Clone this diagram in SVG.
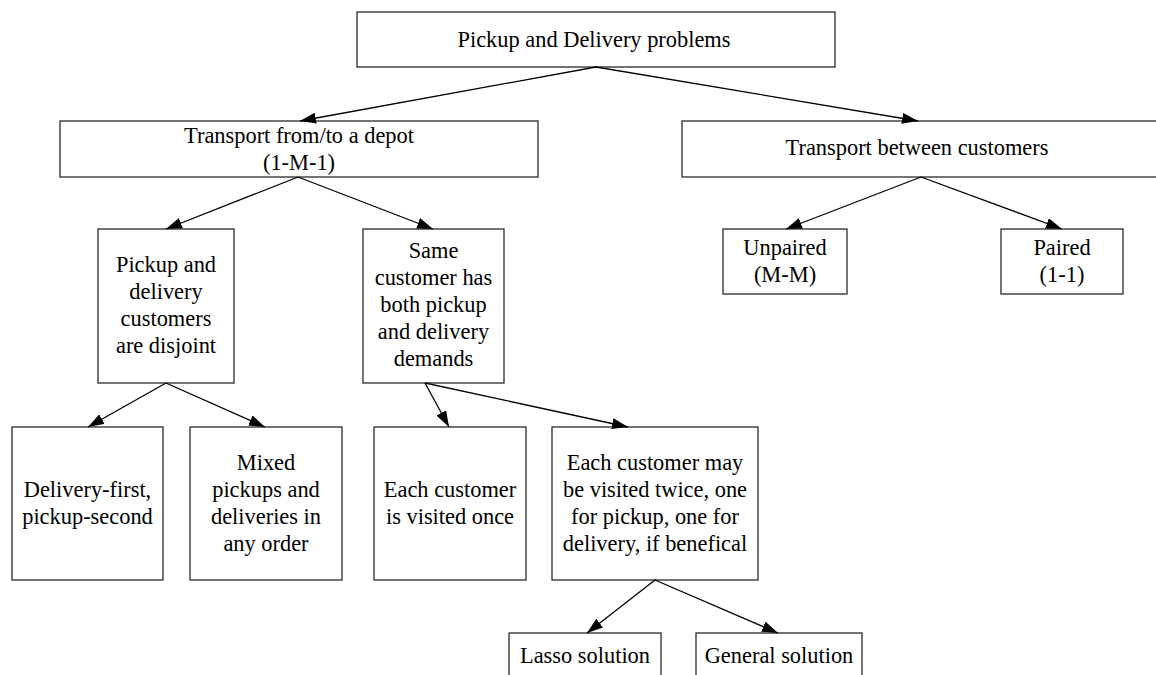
<svg xmlns="http://www.w3.org/2000/svg" width="1156" height="675" viewBox="0 0 1156 675">
<style>
.box{fill:#fff;stroke:#2a2a2a;stroke-width:1.3}
.t{font-family:"Liberation Serif","Times New Roman",serif;font-size:22.4px;fill:#000;text-anchor:middle}
.e{stroke:#000;stroke-width:1.3;fill:none;marker-end:url(#ah)}
</style>
<defs>
<marker id="ah" markerUnits="userSpaceOnUse" markerWidth="16" markerHeight="11" viewBox="0 0 16 11" refX="16" refY="5.5" orient="auto">
<path d="M0,0 L16,5.5 L0,11 z" fill="#000"/>
</marker>
</defs>
<rect width="1156" height="675" fill="#fff"/>
<g id="n-root"><rect class="box" x="357" y="12" width="478" height="55"/><text class="t" x="594" y="46.5">Pickup and Delivery problems</text></g>
<g id="n-depot"><rect class="box" x="60" y="121" width="478" height="56"/><text class="t" x="299" y="143">Transport from/to a depot</text><text class="t" x="299" y="170">(1-M-1)</text></g>
<g id="n-between"><rect class="box" x="682" y="121" width="478" height="56"/><text class="t" x="917" y="155">Transport between customers</text></g>
<g id="n-disjoint"><rect class="box" x="98" y="229" width="136" height="154"/><text class="t" x="166" y="272">Pickup and</text><text class="t" x="166" y="299">delivery</text><text class="t" x="166" y="326">customers</text><text class="t" x="166" y="353">are disjoint</text></g>
<g id="n-same"><rect class="box" x="363" y="229" width="141" height="154"/><text class="t" x="433.5" y="258">Same</text><text class="t" x="433.5" y="285">customer has</text><text class="t" x="433.5" y="312">both pickup</text><text class="t" x="433.5" y="339">and delivery</text><text class="t" x="433.5" y="366">demands</text></g>
<g id="n-unpaired"><rect class="box" x="723" y="229" width="124" height="65"/><text class="t" x="785" y="255">Unpaired</text><text class="t" x="785" y="282">(M-M)</text></g>
<g id="n-paired"><rect class="box" x="1001" y="229" width="122" height="65"/><text class="t" x="1062" y="255">Paired</text><text class="t" x="1062" y="282">(1-1)</text></g>
<g id="n-delfirst"><rect class="box" x="12" y="427" width="151" height="153"/><text class="t" x="87.5" y="497">Delivery-first,</text><text class="t" x="87.5" y="524">pickup-second</text></g>
<g id="n-mixed"><rect class="box" x="190" y="427" width="152" height="153"/><text class="t" x="266" y="470">Mixed</text><text class="t" x="266" y="497">pickups and</text><text class="t" x="266" y="524">deliveries in</text><text class="t" x="266" y="551">any order</text></g>
<g id="n-once"><rect class="box" x="374" y="427" width="152" height="153"/><text class="t" x="450" y="497">Each customer</text><text class="t" x="450" y="524">is visited once</text></g>
<g id="n-twice"><rect class="box" x="552" y="427" width="206" height="153"/><text class="t" x="655" y="470">Each customer may</text><text class="t" x="655" y="497">be visited twice, one</text><text class="t" x="655" y="524">for pickup, one for</text><text class="t" x="655" y="551">delivery, if benefical</text></g>
<g id="n-lasso"><rect class="box" x="509" y="633" width="152" height="50"/><text class="t" x="585" y="663">Lasso solution</text></g>
<g id="n-general"><rect class="box" x="696" y="633" width="166" height="50"/><text class="t" x="779" y="663">General solution</text></g>
<g id="edges">
<line class="e" x1="596" y1="67" x2="300" y2="121"/>
<line class="e" x1="596" y1="67" x2="918" y2="121"/>
<line class="e" x1="298" y1="177" x2="166" y2="229"/>
<line class="e" x1="298" y1="177" x2="433" y2="229"/>
<line class="e" x1="921" y1="177" x2="786" y2="229"/>
<line class="e" x1="921" y1="177" x2="1062" y2="229"/>
<line class="e" x1="166" y1="383" x2="88" y2="427"/>
<line class="e" x1="166" y1="383" x2="265" y2="427"/>
<line class="e" x1="425" y1="383" x2="449" y2="427"/>
<line class="e" x1="425" y1="383" x2="628" y2="427"/>
<line class="e" x1="655" y1="580" x2="587" y2="633"/>
<line class="e" x1="655" y1="580" x2="778" y2="633"/>
</g>
</svg>
